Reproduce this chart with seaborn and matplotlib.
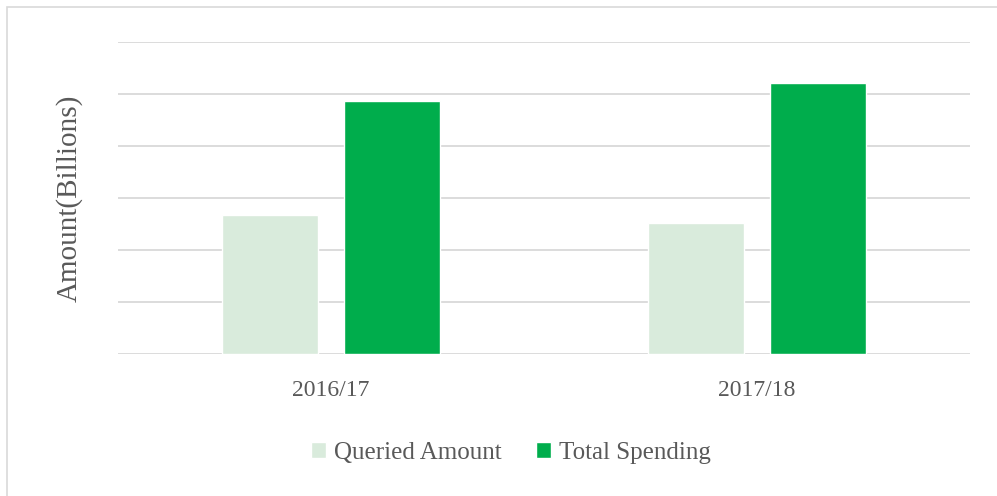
import matplotlib
matplotlib.use("Agg")
import matplotlib.pyplot as plt
import matplotlib.patches as mpatches
import seaborn as sns
import pandas as pd

years = ["2016/17", "2017/18"]
queried = [2.67, 2.52]
total = [4.87, 5.21]
series = ["Queried Amount", "Total Spending"]
colors = ["#d9ebdc", "#00ad4c"]

df = pd.DataFrame({
    "year": years * 2,
    "amount": queried + total,
    "series": [series[0]] * 2 + [series[1]] * 2,
})

sns.set_style("white")
plt.rcParams["font.family"] = ["Liberation Serif", "DejaVu Serif"]
txt = "#595959"

fig = plt.figure(figsize=(9.97, 4.96), dpi=100)
ax = fig.add_axes([0.1184, 0.2863, 0.8546, 0.629])

sns.barplot(data=df, x="year", y="amount", hue="series", palette=colors,
            width=0.573, gap=0.22, ax=ax, saturation=1, legend=True)

ax.set_ylim(0, 6)
ax.set_yticks(range(0, 7))
ax.set_yticklabels([])
ax.tick_params(axis="y", length=0)
ax.tick_params(axis="x", length=0, labelsize=17, labelcolor=txt, pad=19)
ax.grid(axis="y", color="#d9d9d9", linewidth=1.3)
ax.set_axisbelow(True)
for s in ax.spines.values():
    s.set_visible(False)
ax.set_xlabel("")
ax.set_ylabel("Amount(Billions)", fontsize=21, color=txt, labelpad=22)

ax.legend(loc="upper center", bbox_to_anchor=(0.461, -0.21), ncol=2, frameon=False,
          fontsize=18, labelcolor=txt, handlelength=0.6, handleheight=0.6,
          handletextpad=0.3, columnspacing=1.4)

fig.patches.append(mpatches.Rectangle((0.007, -0.01), 1.0, 0.996, transform=fig.transFigure,
                                      fill=False, edgecolor="#d9d9d9", linewidth=1.2))

fig.savefig("out.png", dpi=100)
